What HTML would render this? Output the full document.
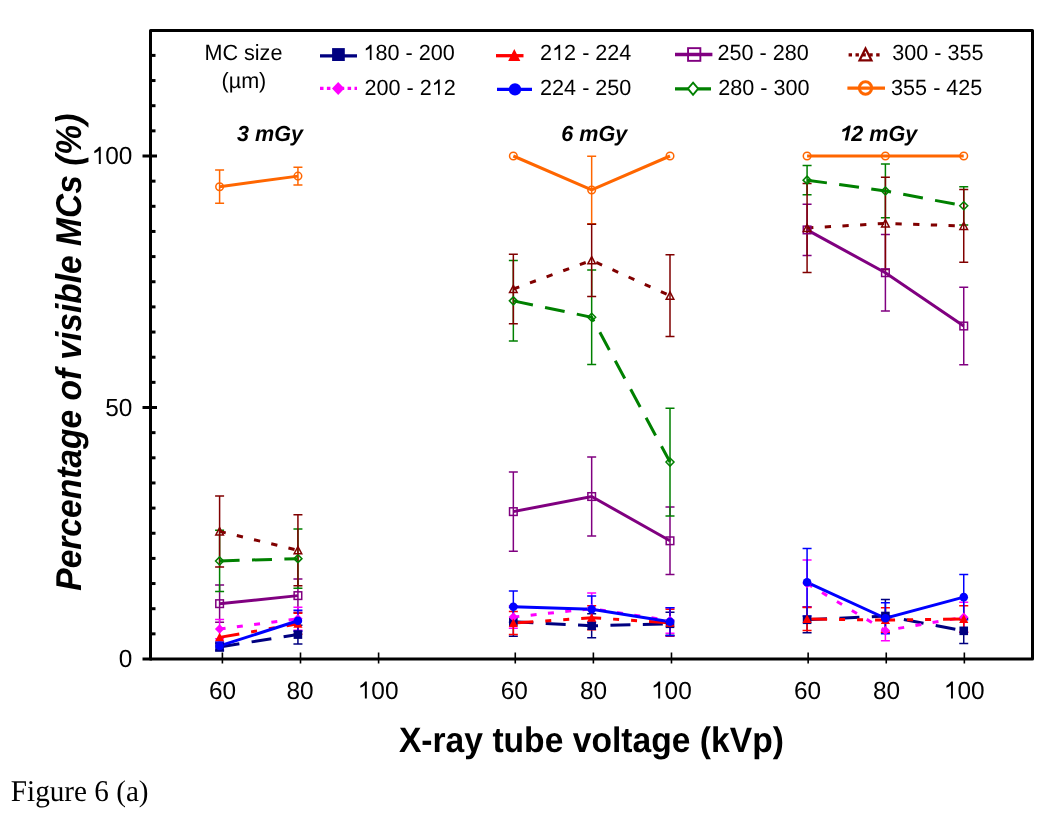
<!DOCTYPE html>
<html><head><meta charset="utf-8"><style>
html,body{margin:0;padding:0;background:#fff;}
svg{display:block;will-change:transform;}
</style></head><body>
<svg width="1050" height="813" viewBox="0 0 1050 813" text-rendering="geometricPrecision">
<rect width="1050" height="813" fill="#fff"/>
<rect x="150.5" y="30.5" width="882" height="628.5" fill="none" stroke="#000" stroke-width="3" stroke-linejoin="round"/>
<path d="M150 633.85H155.5" stroke="#000" stroke-width="3"/>
<path d="M150 608.70H155.5" stroke="#000" stroke-width="3"/>
<path d="M150 583.55H155.5" stroke="#000" stroke-width="3"/>
<path d="M150 558.40H155.5" stroke="#000" stroke-width="3"/>
<path d="M150 533.25H155.5" stroke="#000" stroke-width="3"/>
<path d="M150 508.10H155.5" stroke="#000" stroke-width="3"/>
<path d="M150 482.95H155.5" stroke="#000" stroke-width="3"/>
<path d="M150 457.80H155.5" stroke="#000" stroke-width="3"/>
<path d="M150 432.65H155.5" stroke="#000" stroke-width="3"/>
<path d="M142.5 407.50H157" stroke="#000" stroke-width="3"/>
<path d="M150 382.35H155.5" stroke="#000" stroke-width="3"/>
<path d="M150 357.20H155.5" stroke="#000" stroke-width="3"/>
<path d="M150 332.05H155.5" stroke="#000" stroke-width="3"/>
<path d="M150 306.90H155.5" stroke="#000" stroke-width="3"/>
<path d="M150 281.75H155.5" stroke="#000" stroke-width="3"/>
<path d="M150 256.60H155.5" stroke="#000" stroke-width="3"/>
<path d="M150 231.45H155.5" stroke="#000" stroke-width="3"/>
<path d="M150 206.30H155.5" stroke="#000" stroke-width="3"/>
<path d="M150 181.15H155.5" stroke="#000" stroke-width="3"/>
<path d="M142.5 156.00H157" stroke="#000" stroke-width="3"/>
<path d="M150 130.85H155.5" stroke="#000" stroke-width="3"/>
<path d="M150 105.70H155.5" stroke="#000" stroke-width="3"/>
<path d="M150 80.55H155.5" stroke="#000" stroke-width="3"/>
<path d="M150 55.40H155.5" stroke="#000" stroke-width="3"/>
<path d="M142.5 659H152" stroke="#000" stroke-width="3"/>
<path d="M222.40 652.5V663.5" stroke="#000" stroke-width="1.6"/>
<path d="M300.50 652.5V663.5" stroke="#000" stroke-width="1.6"/>
<path d="M378.60 652.5V663.5" stroke="#000" stroke-width="1.6"/>
<path d="M515.27 652.5V663.5" stroke="#000" stroke-width="1.6"/>
<path d="M593.38 652.5V663.5" stroke="#000" stroke-width="1.6"/>
<path d="M671.48 652.5V663.5" stroke="#000" stroke-width="1.6"/>
<path d="M808.15 652.5V663.5" stroke="#000" stroke-width="1.6"/>
<path d="M886.25 652.5V663.5" stroke="#000" stroke-width="1.6"/>
<path d="M964.35 652.5V663.5" stroke="#000" stroke-width="1.6"/>
<text transform="translate(132.40,667.00) scale(1,1.02)" font-family="'Liberation Sans', sans-serif" font-size="24.4" text-anchor="end">0</text>
<text transform="translate(132.40,415.50) scale(1,1.02)" font-family="'Liberation Sans', sans-serif" font-size="24.4" text-anchor="end">50</text>
<g transform="translate(132.40,164.00) scale(1,1.02)"><text font-family="'Liberation Sans', sans-serif" font-size="24.4" text-anchor="end"> 00</text><path d="M-31.62 -0.00L-33.59 -0.00L-33.59 -13.05Q-35.59 -11.34 -38.11 -10.65L-38.11 -12.65Q-35.11 -14.16 -33.26 -16.79L-31.62 -16.79Z" fill="#000"/></g>
<text transform="translate(222.60,698.60) scale(1,1.02)" font-family="'Liberation Sans', sans-serif" font-size="24.4" text-anchor="middle">60</text>
<text transform="translate(300.00,698.60) scale(1,1.02)" font-family="'Liberation Sans', sans-serif" font-size="24.4" text-anchor="middle">80</text>
<g transform="translate(378.10,698.60) scale(1,1.02)"><text font-family="'Liberation Sans', sans-serif" font-size="24.4" text-anchor="middle"> 00</text><path d="M-11.26 -0.00L-13.23 -0.00L-13.23 -13.05Q-15.23 -11.34 -17.76 -10.65L-17.76 -12.65Q-14.76 -14.16 -12.91 -16.79L-11.26 -16.79Z" fill="#000"/></g>
<text transform="translate(514.30,698.60) scale(1,1.02)" font-family="'Liberation Sans', sans-serif" font-size="24.4" text-anchor="middle">60</text>
<text transform="translate(593.60,698.60) scale(1,1.02)" font-family="'Liberation Sans', sans-serif" font-size="24.4" text-anchor="middle">80</text>
<g transform="translate(671.40,698.60) scale(1,1.02)"><text font-family="'Liberation Sans', sans-serif" font-size="24.4" text-anchor="middle"> 00</text><path d="M-11.26 -0.00L-13.23 -0.00L-13.23 -13.05Q-15.23 -11.34 -17.76 -10.65L-17.76 -12.65Q-14.76 -14.16 -12.91 -16.79L-11.26 -16.79Z" fill="#000"/></g>
<text transform="translate(807.60,698.60) scale(1,1.02)" font-family="'Liberation Sans', sans-serif" font-size="24.4" text-anchor="middle">60</text>
<text transform="translate(886.50,698.60) scale(1,1.02)" font-family="'Liberation Sans', sans-serif" font-size="24.4" text-anchor="middle">80</text>
<g transform="translate(964.20,698.60) scale(1,1.02)"><text font-family="'Liberation Sans', sans-serif" font-size="24.4" text-anchor="middle"> 00</text><path d="M-11.26 -0.00L-13.23 -0.00L-13.23 -13.05Q-15.23 -11.34 -17.76 -10.65L-17.76 -12.65Q-14.76 -14.16 -12.91 -16.79L-11.26 -16.79Z" fill="#000"/></g>
<text transform="translate(591.40,751.70) scale(1,1.035)" font-family="'Liberation Sans', sans-serif" font-size="34.2" font-weight="bold" text-anchor="middle" textLength="385" lengthAdjust="spacingAndGlyphs">X-ray tube voltage (kVp)</text>
<text transform="translate(81.00,352.20) rotate(-90) scale(1,1.05)" font-family="'Liberation Sans', sans-serif" font-size="34.2" font-weight="bold" font-style="italic" text-anchor="middle" textLength="477" lengthAdjust="spacingAndGlyphs">Percentage of visible MCs (%)</text>
<text transform="translate(270.00,140.50) scale(1,1.01)" font-family="'Liberation Sans', sans-serif" font-size="21.6" font-weight="bold" font-style="italic" text-anchor="middle">3 mGy</text>
<text transform="translate(594.30,140.50) scale(1,1.01)" font-family="'Liberation Sans', sans-serif" font-size="21.6" font-weight="bold" font-style="italic" text-anchor="middle">6 mGy</text>
<g transform="translate(878.30,140.50) scale(1,1.01)"><text font-family="'Liberation Sans', sans-serif" font-size="21.6" font-weight="bold" font-style="italic" text-anchor="middle"> 2 mGy</text><path d="M-30.63 -0.00L-33.59 -0.00L-31.31 -10.73Q-33.50 -9.12 -36.23 -8.49L-35.68 -11.07Q-31.94 -12.47 -29.63 -14.86L-27.47 -14.86Z" fill="#000"/></g>
<text transform="translate(243.40,60.20) scale(1,1.02)" font-family="'Liberation Sans', sans-serif" font-size="21.6" text-anchor="middle">MC size</text>
<text transform="translate(243.90,88.40) scale(1,1.02)" font-family="'Liberation Sans', sans-serif" font-size="21.6" text-anchor="middle">(µm)</text>
<path d="M320 55.9H357" stroke="#000080" stroke-width="3.3" fill="none"/>
<path d="M320 88.3H357" stroke="#ff00ff" stroke-width="3.3" fill="none" stroke-dasharray="3.5 3.4"/>
<path d="M496 55.7H523.5" stroke="#ff0000" stroke-width="3.3" fill="none"/>
<path d="M497 89.4H532" stroke="#0000ff" stroke-width="3.3" fill="none"/>
<path d="M675 54.5H712.4" stroke="#800080" stroke-width="3.3" fill="none"/>
<path d="M675 88.8H688M698 88.8H711" stroke="#008000" stroke-width="3.3" fill="none"/>
<path d="M848.6 54.8H880" stroke="#800000" stroke-width="3.3" fill="none" stroke-dasharray="3.4 3.5"/>
<path d="M847.4 88.1H885" stroke="#ff6600" stroke-width="3.3" fill="none"/>
<rect x="332.1" y="48.1" width="12.7" height="12.9" fill="#000080"/>
<path d="M338.2 82L344.4 88.5L338.2 95L332 88.5Z" fill="#ff00ff"/>
<path d="M514.3 49.1L520.3 61.1L508.2 61.1Z" fill="#ff0000"/>
<circle cx="515" cy="89.4" r="6.2" fill="#0000ff"/>
<rect x="688.05" y="48.15" width="12.3" height="12.7" fill="none" stroke="#800080" stroke-width="1.9"/>
<path d="M693.05 82.6L698.2 88.7L693.05 94.8L687.9 88.7Z" fill="none" stroke="#008000" stroke-width="1.9" stroke-linejoin="miter" stroke-miterlimit="10"/>
<path d="M865.5 48.6L871.4 60.3L859.6 60.3Z" fill="none" stroke="#800000" stroke-width="2.3" stroke-linejoin="miter" stroke-miterlimit="10"/>
<circle cx="865.5" cy="88" r="6.2" fill="none" stroke="#ff6600" stroke-width="2.9"/>
<g transform="translate(363.50,60.00) scale(1,1.02)"><text font-family="'Liberation Sans', sans-serif" font-size="21.6"> 80 - 200</text><path d="M8.05 -0.00L6.31 -0.00L6.31 -11.56Q4.54 -10.04 2.30 -9.43L2.30 -11.20Q4.96 -12.54 6.59 -14.86L8.05 -14.86Z" fill="#000"/></g>
<g transform="translate(364.45,94.70) scale(1,1.02)"><text font-family="'Liberation Sans', sans-serif" font-size="21.6">200 - 2 2</text><path d="M75.29 -0.00L73.55 -0.00L73.55 -11.56Q71.78 -10.04 69.55 -9.43L69.55 -11.20Q72.20 -12.54 73.84 -14.86L75.29 -14.86Z" fill="#000"/></g>
<g transform="translate(540.10,60.00) scale(1,1.02)"><text font-family="'Liberation Sans', sans-serif" font-size="21.6">2 2 - 224</text><path d="M20.06 -0.00L18.32 -0.00L18.32 -11.56Q16.55 -10.04 14.31 -9.43L14.31 -11.20Q16.97 -12.54 18.60 -14.86L20.06 -14.86Z" fill="#000"/></g>
<text transform="translate(540.10,94.70) scale(1,1.02)" font-family="'Liberation Sans', sans-serif" font-size="21.6">224 - 250</text>
<text transform="translate(717.50,60.00) scale(1,1.02)" font-family="'Liberation Sans', sans-serif" font-size="21.6">250 - 280</text>
<text transform="translate(718.30,94.70) scale(1,1.02)" font-family="'Liberation Sans', sans-serif" font-size="21.6">280 - 300</text>
<text transform="translate(892.20,60.00) scale(1,1.02)" font-family="'Liberation Sans', sans-serif" font-size="21.6">300 - 355</text>
<text transform="translate(891.10,94.70) scale(1,1.02)" font-family="'Liberation Sans', sans-serif" font-size="21.6">355 - 425</text>
<path d="M219.60 170.08V203.28M215.10 170.08H224.10M215.10 203.28H224.10" stroke="#ff6600" stroke-width="1.5" fill="none"/>
<path d="M297.93 167.32V184.92M293.43 167.32H302.43M293.43 184.92H302.43" stroke="#ff6600" stroke-width="1.5" fill="none"/>
<path d="M591.67 156.25V223.65M587.17 156.25H596.17M587.17 223.65H596.17" stroke="#ff6600" stroke-width="1.5" fill="none"/>
<path d="M219.60 585.06V622.28M215.10 585.06H224.10M215.10 622.28H224.10" stroke="#800080" stroke-width="1.5" fill="none"/>
<path d="M297.93 579.02V612.22M293.43 579.02H302.43M293.43 612.22H302.43" stroke="#800080" stroke-width="1.5" fill="none"/>
<path d="M513.34 471.88V551.36M508.84 471.88H517.84M508.84 551.36H517.84" stroke="#800080" stroke-width="1.5" fill="none"/>
<path d="M591.67 457.05V536.02M587.17 457.05H596.17M587.17 536.02H596.17" stroke="#800080" stroke-width="1.5" fill="none"/>
<path d="M670.00 507.09V574.50M665.50 507.09H674.50M665.50 574.50H674.50" stroke="#800080" stroke-width="1.5" fill="none"/>
<path d="M807.08 204.29V255.59M802.58 204.29H811.58M802.58 255.59H811.58" stroke="#800080" stroke-width="1.5" fill="none"/>
<path d="M885.40 234.47V310.92M880.90 234.47H889.90M880.90 310.92H889.90" stroke="#800080" stroke-width="1.5" fill="none"/>
<path d="M963.74 287.28V364.75M959.24 287.28H968.24M959.24 364.75H968.24" stroke="#800080" stroke-width="1.5" fill="none"/>
<path d="M219.60 530.23V591.60M215.10 530.23H224.10M215.10 591.60H224.10" stroke="#008000" stroke-width="1.5" fill="none"/>
<path d="M297.93 528.97V588.33M293.43 528.97H302.43M293.43 588.33H302.43" stroke="#008000" stroke-width="1.5" fill="none"/>
<path d="M513.34 260.62V341.10M508.84 260.62H517.84M508.84 341.10H517.84" stroke="#008000" stroke-width="1.5" fill="none"/>
<path d="M591.67 269.93V364.49M587.17 269.93H596.17M587.17 364.49H596.17" stroke="#008000" stroke-width="1.5" fill="none"/>
<path d="M670.00 408.25V515.90M665.50 408.25H674.50M665.50 515.90H674.50" stroke="#008000" stroke-width="1.5" fill="none"/>
<path d="M807.08 165.56V194.73M802.58 165.56H811.58M802.58 194.73H811.58" stroke="#008000" stroke-width="1.5" fill="none"/>
<path d="M885.40 164.05V217.87M880.90 164.05H889.90M880.90 217.87H889.90" stroke="#008000" stroke-width="1.5" fill="none"/>
<path d="M963.74 186.68V224.91M959.24 186.68H968.24M959.24 224.91H968.24" stroke="#008000" stroke-width="1.5" fill="none"/>
<path d="M219.60 495.88V566.90M215.10 495.88H224.10M215.10 566.90H224.10" stroke="#800000" stroke-width="1.5" fill="none"/>
<path d="M297.93 514.79V585.71M293.43 514.79H302.43M293.43 585.71H302.43" stroke="#800000" stroke-width="1.5" fill="none"/>
<path d="M513.34 254.29V323.70M508.84 254.29H517.84M508.84 323.70H517.84" stroke="#800000" stroke-width="1.5" fill="none"/>
<path d="M591.67 224.21V296.54M587.17 224.21H596.17M587.17 296.54H596.17" stroke="#800000" stroke-width="1.5" fill="none"/>
<path d="M670.00 254.79V336.48M665.50 254.79H674.50M665.50 336.48H674.50" stroke="#800000" stroke-width="1.5" fill="none"/>
<path d="M807.08 183.46V272.49M802.58 183.46H811.58M802.58 272.49H811.58" stroke="#800000" stroke-width="1.5" fill="none"/>
<path d="M885.40 177.23V269.58M880.90 177.23H889.90M880.90 269.58H889.90" stroke="#800000" stroke-width="1.5" fill="none"/>
<path d="M963.74 189.60V262.33M959.24 189.60H968.24M959.24 262.33H968.24" stroke="#800000" stroke-width="1.5" fill="none"/>
<path d="M219.60 642.90V650.95M215.10 642.90H224.10M215.10 650.95H224.10" stroke="#000080" stroke-width="1.5" fill="none"/>
<path d="M297.93 625.30V643.91M293.43 625.30H302.43M293.43 643.91H302.43" stroke="#000080" stroke-width="1.5" fill="none"/>
<path d="M513.34 607.19V636.37M508.84 607.19H517.84M508.84 636.37H517.84" stroke="#000080" stroke-width="1.5" fill="none"/>
<path d="M591.67 613.73V637.87M587.17 613.73H596.17M587.17 637.87H596.17" stroke="#000080" stroke-width="1.5" fill="none"/>
<path d="M670.00 612.22V635.36M665.50 612.22H674.50M665.50 635.36H674.50" stroke="#000080" stroke-width="1.5" fill="none"/>
<path d="M807.08 606.69V632.84M802.58 606.69H811.58M802.58 632.84H811.58" stroke="#000080" stroke-width="1.5" fill="none"/>
<path d="M885.40 599.39V632.59M880.90 599.39H889.90M880.90 632.59H889.90" stroke="#000080" stroke-width="1.5" fill="none"/>
<path d="M963.74 618.26V643.41M959.24 618.26H968.24M959.24 643.41H968.24" stroke="#000080" stroke-width="1.5" fill="none"/>
<path d="M219.60 619.51V638.63M215.10 619.51H224.10M215.10 638.63H224.10" stroke="#ff00ff" stroke-width="1.5" fill="none"/>
<path d="M297.93 607.19V630.33M293.43 607.19H302.43M293.43 630.33H302.43" stroke="#ff00ff" stroke-width="1.5" fill="none"/>
<path d="M513.34 605.68V628.32M508.84 605.68H517.84M508.84 628.32H517.84" stroke="#ff00ff" stroke-width="1.5" fill="none"/>
<path d="M591.67 593.11V624.29M587.17 593.11H596.17M587.17 624.29H596.17" stroke="#ff00ff" stroke-width="1.5" fill="none"/>
<path d="M670.00 607.69V633.35M665.50 607.69H674.50M665.50 633.35H674.50" stroke="#ff00ff" stroke-width="1.5" fill="none"/>
<path d="M807.08 559.91V607.19M802.58 559.91H811.58M802.58 607.19H811.58" stroke="#ff00ff" stroke-width="1.5" fill="none"/>
<path d="M885.40 620.52V640.64M880.90 620.52H889.90M880.90 640.64H889.90" stroke="#ff00ff" stroke-width="1.5" fill="none"/>
<path d="M963.74 602.16V632.34M959.24 602.16H968.24M959.24 632.34H968.24" stroke="#ff00ff" stroke-width="1.5" fill="none"/>
<path d="M297.93 613.23V634.35M293.43 613.23H302.43M293.43 634.35H302.43" stroke="#ff0000" stroke-width="1.5" fill="none"/>
<path d="M513.34 611.47V634.60M508.84 611.47H517.84M508.84 634.60H517.84" stroke="#ff0000" stroke-width="1.5" fill="none"/>
<path d="M591.67 605.68V629.83M587.17 605.68H596.17M587.17 629.83H596.17" stroke="#ff0000" stroke-width="1.5" fill="none"/>
<path d="M670.00 609.20V636.37M665.50 609.20H674.50M665.50 636.37H674.50" stroke="#ff0000" stroke-width="1.5" fill="none"/>
<path d="M807.08 607.44V630.58M802.58 607.44H811.58M802.58 630.58H811.58" stroke="#ff0000" stroke-width="1.5" fill="none"/>
<path d="M885.40 607.69V632.34M880.90 607.69H889.90M880.90 632.34H889.90" stroke="#ff0000" stroke-width="1.5" fill="none"/>
<path d="M963.74 605.68V632.34M959.24 605.68H968.24M959.24 632.34H968.24" stroke="#ff0000" stroke-width="1.5" fill="none"/>
<path d="M219.60 641.90V649.95M215.10 641.90H224.10M215.10 649.95H224.10" stroke="#0000ff" stroke-width="1.5" fill="none"/>
<path d="M297.93 610.21V631.34M293.43 610.21H302.43M293.43 631.34H302.43" stroke="#0000ff" stroke-width="1.5" fill="none"/>
<path d="M513.34 591.10V622.28M508.84 591.10H517.84M508.84 622.28H517.84" stroke="#0000ff" stroke-width="1.5" fill="none"/>
<path d="M591.67 596.12V622.28M587.17 596.12H596.17M587.17 622.28H596.17" stroke="#0000ff" stroke-width="1.5" fill="none"/>
<path d="M670.00 607.69V635.86M665.50 607.69H674.50M665.50 635.86H674.50" stroke="#0000ff" stroke-width="1.5" fill="none"/>
<path d="M807.08 548.59V615.99M802.58 548.59H811.58M802.58 615.99H811.58" stroke="#0000ff" stroke-width="1.5" fill="none"/>
<path d="M885.40 602.66V633.85M880.90 602.66H889.90M880.90 633.85H889.90" stroke="#0000ff" stroke-width="1.5" fill="none"/>
<path d="M963.74 574.50V619.77M959.24 574.50H968.24M959.24 619.77H968.24" stroke="#0000ff" stroke-width="1.5" fill="none"/>
<polyline points="219.60,186.68 297.93,176.12" fill="none" stroke="#ff6600" stroke-width="3"/>
<polyline points="513.34,156.00 591.67,189.95 670.00,156.00" fill="none" stroke="#ff6600" stroke-width="3"/>
<polyline points="807.08,156.00 885.40,156.00 963.74,156.00" fill="none" stroke="#ff6600" stroke-width="3"/>
<polyline points="219.60,603.67 297.93,595.62" fill="none" stroke="#800080" stroke-width="3"/>
<polyline points="513.34,511.62 591.67,496.53 670.00,540.79" fill="none" stroke="#800080" stroke-width="3"/>
<polyline points="807.08,229.94 885.40,272.70 963.74,326.01" fill="none" stroke="#800080" stroke-width="3"/>
<polyline points="219.60,560.91 297.93,558.65" fill="none" stroke="#008000" stroke-width="3" stroke-dasharray="20 12.4"/>
<polyline points="513.34,300.86 591.67,317.21 670.00,462.08" fill="none" stroke="#008000" stroke-width="3" stroke-dasharray="20 12.4"/>
<polyline points="807.08,180.14 885.40,190.96 963.74,205.80" fill="none" stroke="#008000" stroke-width="3" stroke-dasharray="20 12.4"/>
<polyline points="219.60,531.39 297.93,550.25" fill="none" stroke="#800000" stroke-width="3" stroke-dasharray="6.3 11.4"/>
<polyline points="513.34,288.99 591.67,260.37 670.00,295.63" fill="none" stroke="#800000" stroke-width="3" stroke-dasharray="6.3 11.4"/>
<polyline points="807.08,227.98 885.40,223.40 963.74,225.97" fill="none" stroke="#800000" stroke-width="3" stroke-dasharray="6.3 11.4"/>
<polyline points="219.60,646.93 297.93,634.60" fill="none" stroke="#000080" stroke-width="3" stroke-dasharray="20 12.4"/>
<polyline points="513.34,621.78 591.67,625.80 670.00,623.79" fill="none" stroke="#000080" stroke-width="3" stroke-dasharray="20 12.4"/>
<polyline points="807.08,619.77 885.40,615.99 963.74,630.83" fill="none" stroke="#000080" stroke-width="3" stroke-dasharray="20 12.4"/>
<polyline points="219.60,629.07 297.93,618.76" fill="none" stroke="#ff00ff" stroke-width="3" stroke-dasharray="6 11.4"/>
<polyline points="513.34,617.00 591.67,608.70 670.00,620.52" fill="none" stroke="#ff00ff" stroke-width="3" stroke-dasharray="6 11.4"/>
<polyline points="807.08,583.55 885.40,630.58 963.74,617.25" fill="none" stroke="#ff00ff" stroke-width="3" stroke-dasharray="6 11.4"/>
<polyline points="219.60,637.37 297.93,623.79" fill="none" stroke="#ff0000" stroke-width="3" stroke-dasharray="20 12 6 12 6 12"/>
<polyline points="513.34,623.04 591.67,617.75 670.00,622.78" fill="none" stroke="#ff0000" stroke-width="3" stroke-dasharray="20 12 6 12 6 12"/>
<polyline points="807.08,619.01 885.40,620.02 963.74,619.01" fill="none" stroke="#ff0000" stroke-width="3" stroke-dasharray="20 12 6 12 6 12"/>
<polyline points="219.60,645.92 297.93,620.77" fill="none" stroke="#0000ff" stroke-width="3"/>
<polyline points="513.34,606.69 591.67,609.20 670.00,621.78" fill="none" stroke="#0000ff" stroke-width="3"/>
<polyline points="807.08,582.29 885.40,618.26 963.74,597.13" fill="none" stroke="#0000ff" stroke-width="3"/>
<circle cx="219.60" cy="186.68" r="3.80" fill="none" stroke="#ff6600" stroke-width="1.50"/>
<circle cx="297.93" cy="176.12" r="3.80" fill="none" stroke="#ff6600" stroke-width="1.50"/>
<circle cx="513.34" cy="156.00" r="3.80" fill="none" stroke="#ff6600" stroke-width="1.50"/>
<circle cx="591.67" cy="189.95" r="3.80" fill="none" stroke="#ff6600" stroke-width="1.50"/>
<circle cx="670.00" cy="156.00" r="3.80" fill="none" stroke="#ff6600" stroke-width="1.50"/>
<circle cx="807.08" cy="156.00" r="3.80" fill="none" stroke="#ff6600" stroke-width="1.50"/>
<circle cx="885.40" cy="156.00" r="3.80" fill="none" stroke="#ff6600" stroke-width="1.50"/>
<circle cx="963.74" cy="156.00" r="3.80" fill="none" stroke="#ff6600" stroke-width="1.50"/>
<rect x="215.80" y="599.87" width="7.60" height="7.60" fill="none" stroke="#800080" stroke-width="1.50"/>
<rect x="294.13" y="591.82" width="7.60" height="7.60" fill="none" stroke="#800080" stroke-width="1.50"/>
<rect x="509.54" y="507.82" width="7.60" height="7.60" fill="none" stroke="#800080" stroke-width="1.50"/>
<rect x="587.87" y="492.73" width="7.60" height="7.60" fill="none" stroke="#800080" stroke-width="1.50"/>
<rect x="666.20" y="537.00" width="7.60" height="7.60" fill="none" stroke="#800080" stroke-width="1.50"/>
<rect x="803.28" y="226.14" width="7.60" height="7.60" fill="none" stroke="#800080" stroke-width="1.50"/>
<rect x="881.61" y="268.90" width="7.60" height="7.60" fill="none" stroke="#800080" stroke-width="1.50"/>
<rect x="959.94" y="322.21" width="7.60" height="7.60" fill="none" stroke="#800080" stroke-width="1.50"/>
<path d="M219.60 556.91L223.60 560.91L219.60 564.91L215.60 560.91Z" fill="none" stroke="#008000" stroke-width="1.50"/>
<path d="M297.93 554.65L301.93 558.65L297.93 562.65L293.93 558.65Z" fill="none" stroke="#008000" stroke-width="1.50"/>
<path d="M513.34 296.86L517.34 300.86L513.34 304.86L509.34 300.86Z" fill="none" stroke="#008000" stroke-width="1.50"/>
<path d="M591.67 313.21L595.67 317.21L591.67 321.21L587.67 317.21Z" fill="none" stroke="#008000" stroke-width="1.50"/>
<path d="M670.00 458.08L674.00 462.08L670.00 466.08L666.00 462.08Z" fill="none" stroke="#008000" stroke-width="1.50"/>
<path d="M807.08 176.14L811.08 180.14L807.08 184.14L803.08 180.14Z" fill="none" stroke="#008000" stroke-width="1.50"/>
<path d="M885.40 186.96L889.40 190.96L885.40 194.96L881.40 190.96Z" fill="none" stroke="#008000" stroke-width="1.50"/>
<path d="M963.74 201.80L967.74 205.80L963.74 209.80L959.74 205.80Z" fill="none" stroke="#008000" stroke-width="1.50"/>
<path d="M219.60 527.69L223.40 534.89L215.80 534.89Z" fill="none" stroke="#800000" stroke-width="1.50" stroke-linejoin="miter"/>
<path d="M297.93 546.55L301.73 553.75L294.13 553.75Z" fill="none" stroke="#800000" stroke-width="1.50" stroke-linejoin="miter"/>
<path d="M513.34 285.29L517.14 292.49L509.54 292.49Z" fill="none" stroke="#800000" stroke-width="1.50" stroke-linejoin="miter"/>
<path d="M591.67 256.67L595.47 263.87L587.87 263.87Z" fill="none" stroke="#800000" stroke-width="1.50" stroke-linejoin="miter"/>
<path d="M670.00 291.93L673.80 299.13L666.20 299.13Z" fill="none" stroke="#800000" stroke-width="1.50" stroke-linejoin="miter"/>
<path d="M807.08 224.28L810.88 231.48L803.28 231.48Z" fill="none" stroke="#800000" stroke-width="1.50" stroke-linejoin="miter"/>
<path d="M885.40 219.70L889.20 226.90L881.61 226.90Z" fill="none" stroke="#800000" stroke-width="1.50" stroke-linejoin="miter"/>
<path d="M963.74 222.27L967.53 229.47L959.94 229.47Z" fill="none" stroke="#800000" stroke-width="1.50" stroke-linejoin="miter"/>
<rect x="215.30" y="642.63" width="8.60" height="8.60" fill="#000080"/>
<rect x="293.63" y="630.30" width="8.60" height="8.60" fill="#000080"/>
<rect x="509.04" y="617.48" width="8.60" height="8.60" fill="#000080"/>
<rect x="587.37" y="621.50" width="8.60" height="8.60" fill="#000080"/>
<rect x="665.70" y="619.49" width="8.60" height="8.60" fill="#000080"/>
<rect x="802.78" y="615.47" width="8.60" height="8.60" fill="#000080"/>
<rect x="881.11" y="611.69" width="8.60" height="8.60" fill="#000080"/>
<rect x="959.44" y="626.53" width="8.60" height="8.60" fill="#000080"/>
<path d="M219.60 624.37L224.30 629.07L219.60 633.77L214.90 629.07Z" fill="#ff00ff"/>
<path d="M297.93 614.06L302.63 618.76L297.93 623.46L293.23 618.76Z" fill="#ff00ff"/>
<path d="M513.34 612.30L518.04 617.00L513.34 621.70L508.64 617.00Z" fill="#ff00ff"/>
<path d="M591.67 604.00L596.37 608.70L591.67 613.40L586.97 608.70Z" fill="#ff00ff"/>
<path d="M670.00 615.82L674.70 620.52L670.00 625.22L665.30 620.52Z" fill="#ff00ff"/>
<path d="M807.08 578.85L811.78 583.55L807.08 588.25L802.38 583.55Z" fill="#ff00ff"/>
<path d="M885.40 625.88L890.11 630.58L885.40 635.28L880.70 630.58Z" fill="#ff00ff"/>
<path d="M963.74 612.55L968.44 617.25L963.74 621.95L959.03 617.25Z" fill="#ff00ff"/>
<path d="M219.60 632.77L224.20 641.37L215.00 641.37Z" fill="#ff0000"/>
<path d="M297.93 619.19L302.53 627.79L293.33 627.79Z" fill="#ff0000"/>
<path d="M513.34 618.44L517.94 627.04L508.74 627.04Z" fill="#ff0000"/>
<path d="M591.67 613.15L596.27 621.75L587.07 621.75Z" fill="#ff0000"/>
<path d="M670.00 618.18L674.60 626.78L665.40 626.78Z" fill="#ff0000"/>
<path d="M807.08 614.41L811.68 623.01L802.48 623.01Z" fill="#ff0000"/>
<path d="M885.40 615.42L890.00 624.02L880.80 624.02Z" fill="#ff0000"/>
<path d="M963.74 614.41L968.34 623.01L959.13 623.01Z" fill="#ff0000"/>
<circle cx="219.60" cy="645.92" r="4.30" fill="#0000ff"/>
<circle cx="297.93" cy="620.77" r="4.30" fill="#0000ff"/>
<circle cx="513.34" cy="606.69" r="4.30" fill="#0000ff"/>
<circle cx="591.67" cy="609.20" r="4.30" fill="#0000ff"/>
<circle cx="670.00" cy="621.78" r="4.30" fill="#0000ff"/>
<circle cx="807.08" cy="582.29" r="4.30" fill="#0000ff"/>
<circle cx="885.40" cy="618.26" r="4.30" fill="#0000ff"/>
<circle cx="963.74" cy="597.13" r="4.30" fill="#0000ff"/>
<text transform="translate(10.8,800.9) scale(1,1.03)" font-family="'Liberation Serif', serif" font-size="29.2">Figure 6 (a)</text>
</svg>
</body></html>
